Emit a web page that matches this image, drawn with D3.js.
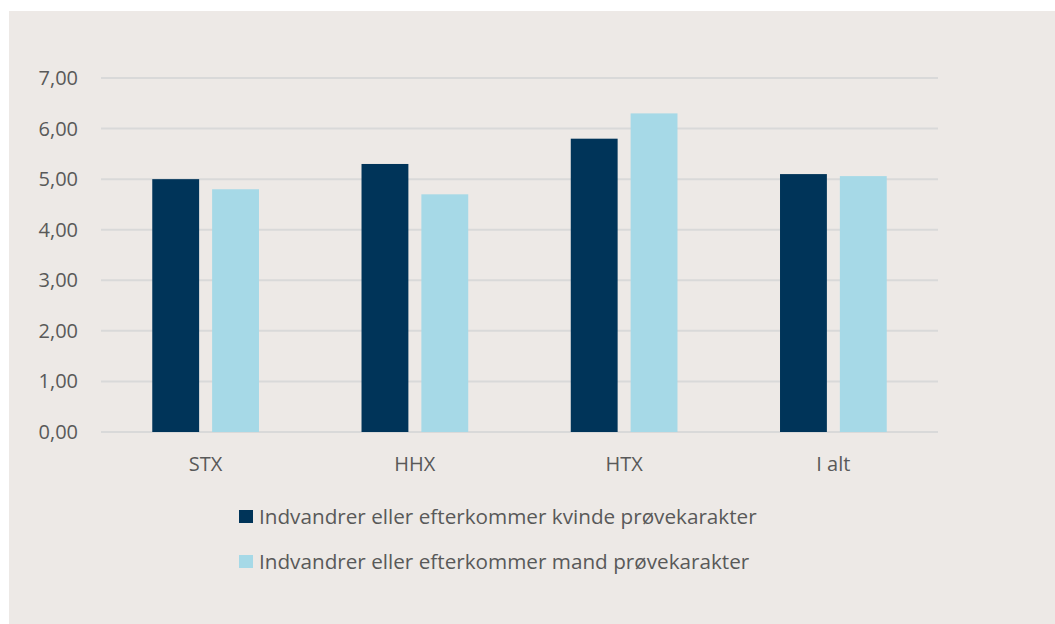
<!DOCTYPE html>
<html>
<head>
<meta charset="utf-8">
<script src="https://cdn.jsdelivr.net/npm/d3@7"></script>
<style>
  body { margin: 0; background: #ffffff; }
  svg { display: block; }
  text { font-family: "Open Sans", sans-serif; fill: #595959; }
</style>
</head>
<body>
<div id="chart"></div>
<script>
let w = 1055;
let h = 624;

let categories = ["STX", "HHX", "HTX", "I alt"];
let seriesNames = [
  "Indvandrer eller efterkommer kvinde prøvekarakter",
  "Indvandrer eller efterkommer mand prøvekarakter"
];
let kvinde = [5.0, 5.3, 5.8, 5.1];
let mand = [4.8, 4.7, 6.3, 5.06];
let yTicks = [0, 1, 2, 3, 4, 5, 6, 7];
let colors = ["#003459", "#a6d9e7"];

let viz = d3.select("#chart")
  .append("svg")
  .attr("width", w)
  .attr("height", h);

// panel background
viz.append("rect")
  .attr("x", 9)
  .attr("y", 11)
  .attr("width", w - 9)
  .attr("height", h - 11)
  .attr("fill", "#ede9e6");

let plotLeft = 101, plotRight = 938, plotTop = 78, plotBottom = 432;

let yScale = d3.scaleLinear().domain([0, 7]).range([plotBottom, plotTop]);
let xScale = d3.scaleBand().domain(categories).range([plotLeft, plotRight])
  .paddingInner(0.49).paddingOuter(0.245);
let xInner = d3.scaleBand().domain([0, 1]).range([0, xScale.bandwidth()])
  .paddingInner(0.217);

let fmt = d => d3.format(".2f")(d).replace(".", ",");

// grid lines
viz.append("g").selectAll("line").data(yTicks).enter()
  .append("line")
  .attr("x1", plotLeft)
  .attr("x2", plotRight)
  .attr("y1", d => yScale(d))
  .attr("y2", d => yScale(d))
  .attr("stroke", "#d9d9d9")
  .attr("stroke-width", 2);

// y labels
viz.append("g").selectAll("text").data(yTicks).enter()
  .append("text")
  .attr("x", 78)
  .attr("y", d => yScale(d))
  .attr("dy", "0.35em")
  .attr("text-anchor", "end")
  .style("font-size", "20px")
  .text(fmt);

// bars
let rows = categories.map((c, i) => ({cat: c, vals: [kvinde[i], mand[i]]}));
let groups = viz.append("g").selectAll("g").data(rows).enter()
  .append("g")
  .attr("transform", d => "translate(" + xScale(d.cat) + ",0)");

groups.selectAll("rect").data(d => d.vals).enter()
  .append("rect")
  .attr("x", (d, i) => xInner(i))
  .attr("width", xInner.bandwidth())
  .attr("y", d => yScale(d))
  .attr("height", d => plotBottom - yScale(d))
  .attr("fill", (d, i) => colors[i]);

// x labels
viz.append("g").selectAll("text").data(categories).enter()
  .append("text")
  .attr("x", d => xScale(d) + xScale.bandwidth() / 2)
  .attr("y", 471)
  .attr("text-anchor", "middle")
  .style("font-size", "20px")
  .text(d => d);

// legend
let legend = viz.append("g").selectAll("g").data(seriesNames).enter()
  .append("g")
  .attr("transform", (d, i) => "translate(239," + (510 + i * 45) + ")");

legend.append("rect")
  .attr("width", 14)
  .attr("height", 13)
  .attr("fill", (d, i) => colors[i]);

legend.append("text")
  .attr("x", 20)
  .attr("y", 13.5)
  .style("font-size", "20.7px")
  .text(d => d);
</script>
</body>
</html>
